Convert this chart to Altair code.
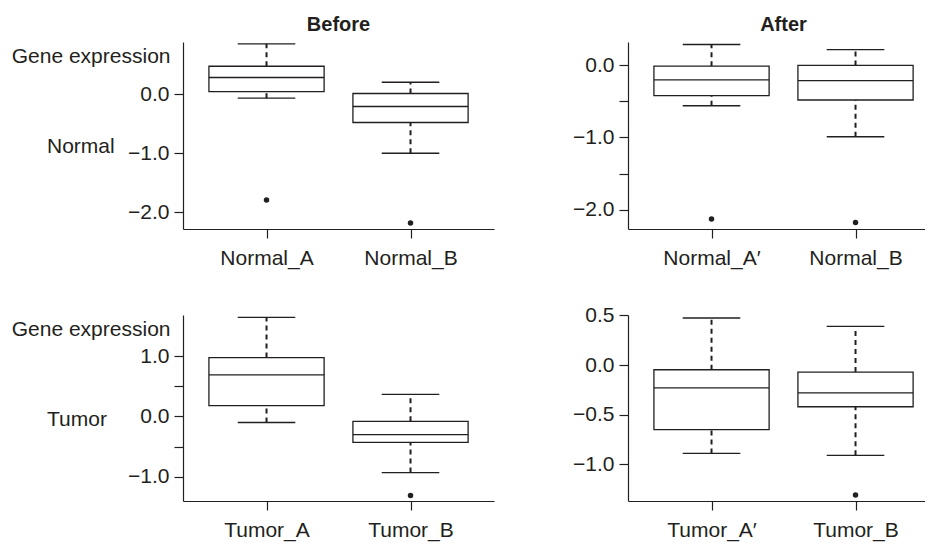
import altair as alt
import pandas as pd

# ---------------- data ----------------
nb_groups = ["Normal_A", "Normal_B"]
nb_low = [-0.07, -1.00]
nb_q1 = [0.04, -0.48]
nb_med = [0.28, -0.21]
nb_q3 = [0.47, 0.01]
nb_high = [0.85, 0.20]
nb_out_group = [1, 2]
nb_out_value = [-1.79, -2.18]

na_groups = ["Normal_A\u2032", "Normal_B"]
na_low = [-0.56, -0.99]
na_q1 = [-0.42, -0.48]
na_med = [-0.20, -0.21]
na_q3 = [-0.01, 0.00]
na_high = [0.29, 0.22]
na_out_group = [1, 2]
na_out_value = [-2.13, -2.18]

tb_groups = ["Tumor_A", "Tumor_B"]
tb_low = [-0.10, -0.93]
tb_q1 = [0.18, -0.43]
tb_med = [0.69, -0.30]
tb_q3 = [0.975, -0.08]
tb_high = [1.64, 0.365]
tb_out_group = [2]
tb_out_value = [-1.31]

ta_groups = ["Tumor_A\u2032", "Tumor_B"]
ta_low = [-0.89, -0.91]
ta_q1 = [-0.65, -0.42]
ta_med = [-0.23, -0.28]
ta_q3 = [-0.047, -0.07]
ta_high = [0.475, 0.39]
ta_out_group = [2]
ta_out_value = [-1.31]

# axis tick values (all ticks, and the labelled ones)
nb_ticks = [0.5, 0.0, -0.5, -1.0, -1.5, -2.0]
nb_labelled = [0.0, -1.0, -2.0]
na_ticks = [0.0, -0.5, -1.0, -1.5, -2.0]
na_labelled = [0.0, -1.0, -2.0]
tb_ticks = [1.0, 0.5, 0.0, -0.5, -1.0]
tb_labelled = [1.0, 0.0, -1.0]
ta_ticks = [0.5, 0.0, -0.5, -1.0]
ta_labelled = [0.5, 0.0, -0.5, -1.0]

INK = "#231f20"
FONT = "Liberation Sans"
FS = 21
PX_PER_UNIT = 144.0
X0 = 0.42


def panel(groups, low, q1, med, q3, high, out_g, out_v, ydom, ticks, labelled,
          width, height, title=None, title_dx=0, side_label=None):
    df = pd.DataFrame({
        "group": groups,
        "pos": list(range(1, len(groups) + 1)),
        "low": low, "q1": q1, "med": med, "q3": q3, "high": high,
    })
    df["left"] = df["pos"] - 0.4
    df["right"] = df["pos"] + 0.4
    df["capl"] = df["pos"] - 0.2
    df["capr"] = df["pos"] + 0.2
    out = pd.DataFrame({"pos": out_g, "value": out_v})

    label_expr = " : ".join(
        [f"datum.value == {i + 1} ? '{g}'" for i, g in enumerate(groups)] + ["''"]
    )
    lab_list = "[" + ",".join(str(v) for v in labelled) + "]"
    ylabel_expr = f"indexof({lab_list}, datum.value) >= 0 ? datum.label : ''"

    xs = alt.Scale(domain=[X0, X0 + width / PX_PER_UNIT], nice=False, zero=False)
    ys = alt.Scale(domain=ydom, nice=False, zero=False)
    xaxis = alt.Axis(values=[1, 2], labelExpr=label_expr, title=None, grid=False,
                     tickSize=9, labelPadding=9, labelFontSize=FS, labelFont=FONT,
                     labelColor=INK, domainColor=INK, tickColor=INK,
                     domainWidth=1.2, tickWidth=1.2, labelFlush=False)
    yaxis = alt.Axis(values=ticks, format=".1f", labelExpr=ylabel_expr, title=None,
                     grid=False, tickSize=9, labelPadding=5, labelFontSize=FS,
                     labelFont=FONT, labelColor=INK, domainColor=INK, tickColor=INK,
                     domainWidth=1.2, tickWidth=1.2, labelFlush=False)

    base = alt.Chart(df)
    whisk_hi = base.mark_rule(color=INK, strokeWidth=2, strokeDash=[5, 4]).encode(
        x=alt.X("pos:Q", scale=xs, axis=xaxis),
        y=alt.Y("q3:Q", scale=ys, axis=yaxis),
        y2="high:Q",
    )
    whisk_lo = base.mark_rule(color=INK, strokeWidth=2, strokeDash=[5, 4]).encode(
        x=alt.X("pos:Q", scale=xs), y=alt.Y("low:Q", scale=ys), y2="q1:Q"
    )
    box = base.mark_rect(fill="white", stroke=INK, strokeWidth=1.3).encode(
        x=alt.X("left:Q", scale=xs), x2="right:Q",
        y=alt.Y("q1:Q", scale=ys), y2="q3:Q",
    )
    median = base.mark_rule(color=INK, strokeWidth=1.3).encode(
        x=alt.X("left:Q", scale=xs), x2="right:Q", y=alt.Y("med:Q", scale=ys)
    )
    cap_hi = base.mark_rule(color=INK, strokeWidth=1.3).encode(
        x=alt.X("capl:Q", scale=xs), x2="capr:Q", y=alt.Y("high:Q", scale=ys)
    )
    cap_lo = base.mark_rule(color=INK, strokeWidth=1.3).encode(
        x=alt.X("capl:Q", scale=xs), x2="capr:Q", y=alt.Y("low:Q", scale=ys)
    )
    pts = alt.Chart(out).mark_circle(color=INK, opacity=1, size=30).encode(
        x=alt.X("pos:Q", scale=xs), y=alt.Y("value:Q", scale=ys)
    )
    layers = [whisk_hi, whisk_lo, box, median, cap_hi, cap_lo, pts]

    if side_label is not None:
        t1 = alt.Chart(pd.DataFrame({"t": ["Gene expression"]})).mark_text(
            align="right", baseline="middle", font=FONT, fontSize=FS, color=INK
        ).encode(text="t:N", x=alt.value(-12.5), y=alt.value(14.5))
        t2 = alt.Chart(pd.DataFrame({"t": [side_label]})).mark_text(
            align="left", baseline="middle", font=FONT, fontSize=FS, color=INK
        ).encode(text="t:N", x=alt.value(-136), y=alt.value(104.5))
        layers += [t1, t2]

    props = dict(width=width, height=height)
    if title is not None:
        props["title"] = alt.TitleParams(title, font=FONT, fontSize=20,
                                         fontWeight="bold", color=INK,
                                         anchor="middle", baseline="alphabetic",
                                         offset=-9, dx=title_dx)
    return alt.layer(*layers).properties(**props)


p1 = panel(nb_groups, nb_low, nb_q1, nb_med, nb_q3, nb_high, nb_out_group,
           nb_out_value, [-2.28, 0.88], nb_ticks, nb_labelled, 311, 187,
           title="Before", side_label="Normal")
p2 = panel(na_groups, na_low, na_q1, na_med, na_q3, na_high, na_out_group,
           na_out_value, [-2.27, 0.325], na_ticks, na_labelled, 297, 187,
           title="After", title_dx=7)
p3 = panel(tb_groups, tb_low, tb_q1, tb_med, tb_q3, tb_high, tb_out_group,
           tb_out_value, [-1.40, 1.68], tb_ticks, tb_labelled, 311, 186,
           side_label="Tumor")
p4 = panel(ta_groups, ta_low, ta_q1, ta_med, ta_q3, ta_high, ta_out_group,
           ta_out_value, [-1.37, 0.505], ta_ticks, ta_labelled, 297, 186)

chart = alt.concat(p1, p2, p3, p4, columns=2, bounds="flush",
                   spacing={"row": 86, "column": 134}).configure_view(
    stroke=None
).properties(padding={"left": 3, "top": 7, "right": 0, "bottom": 6}, background="white")

chart.save("out.html", embed_options={"renderer": "svg", "actions": False})
